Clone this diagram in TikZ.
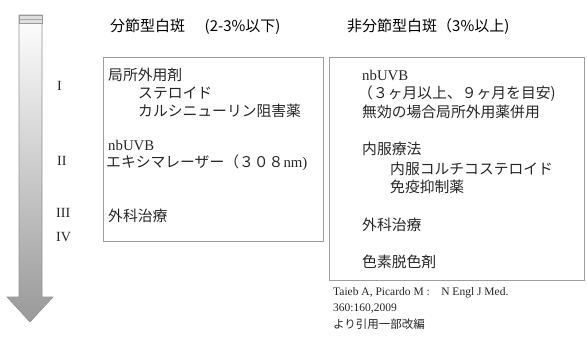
\documentclass[tikz,border=0pt]{standalone}
\usepackage{fontspec}
\setmainfont{Liberation Serif}
\newfontfamily\jp{Noto Sans CJK JP}
\begin{document}
\begin{tikzpicture}[x=1pt,y=-1pt,
  txt/.style={anchor=west,inner sep=0pt,text=black!85,font=\fontsize{14.8}{17}\selectfont},
  hdr/.style={anchor=west,inner sep=0pt,text=black,font=\fontsize{15}{17}\selectfont},
  rom/.style={anchor=west,inner sep=0pt,text=black!85,font=\fontsize{14}{16}\selectfont},
  cite/.style={anchor=west,inner sep=0pt,text=black!85,font=\fontsize{11.5}{13}\selectfont},
  panel/.style={draw=gray!75,line width=0.8pt}]
\useasboundingbox (0,0) rectangle (587,343);
% arrow
\shade[top color=white,bottom color=gray!80,draw=gray!85,line width=0.6pt]
  (19,15) -- (42,15) -- (42,297) -- (53,297) -- (30,322) -- (7,297) -- (19,297) -- cycle;
\filldraw[fill=gray!25,draw=gray!80,line width=0.6pt] (19,15) rectangle (42,23);
\draw[gray!70,line width=0.6pt] (19,19) -- (42,19);
% headers
\node[hdr] (h1) at (110,27) {\jp 分節型白斑\hspace{1.3em}(2-3\%以下)};
\node[hdr] (h2) at (347,27) {\jp 非分節型白斑（3\%以上)};
% stages
\node[rom] (s1) at (57,86) {I};
\node[rom] (s2) at (57,161) {II};
\node[rom] (s3) at (56,213) {III};
\node[rom] (s4) at (56,237) {IV};
% panels
\draw[panel] (103,57) rectangle (323,241);
\draw[panel] (329,57) rectangle (584,280);
% left panel
\node[txt] (l1) at (108,75) {\jp 局所外用剤};
\node[txt] (l2) at (138,93) {\jp ステロイド};
\node[txt] (l3) at (138,111) {\jp カルシニューリン阻害薬};
\node[txt] (l4) at (108,145) {nbUVB};
\node[txt] (l5) at (106,163) {{\jp エキシマレーザー（３０８}nm)};
\node[txt] (l6) at (108,216) {\jp 外科治療};
% right panel
\node[txt] (r1) at (362,75) {nbUVB};
\node[txt] (r2) at (358,94) {\jp （３ヶ月以上、９ヶ月を目安)};
\node[txt] (r3) at (362,112) {\jp 無効の場合局所外用薬併用};
\node[txt] (r4) at (362,149) {\jp 内服療法};
\node[txt] (r5) at (390,169) {\jp 内服コルチコステロイド};
\node[txt] (r6) at (390,187) {\jp 免疫抑制薬};
\node[txt] (r7) at (362,225) {\jp 外科治療};
\node[txt] (r8) at (362,262) {\jp 色素脱色剤};
% citation
\node[cite] (c1) at (333,293) {Taieb A, Picardo M :\quad N Engl J Med.};
\node[cite] (c2) at (333,309) {360:160,2009};
\node[cite] (c3) at (333,324) {\jp より引用一部改編};
\end{tikzpicture}
\end{document}
